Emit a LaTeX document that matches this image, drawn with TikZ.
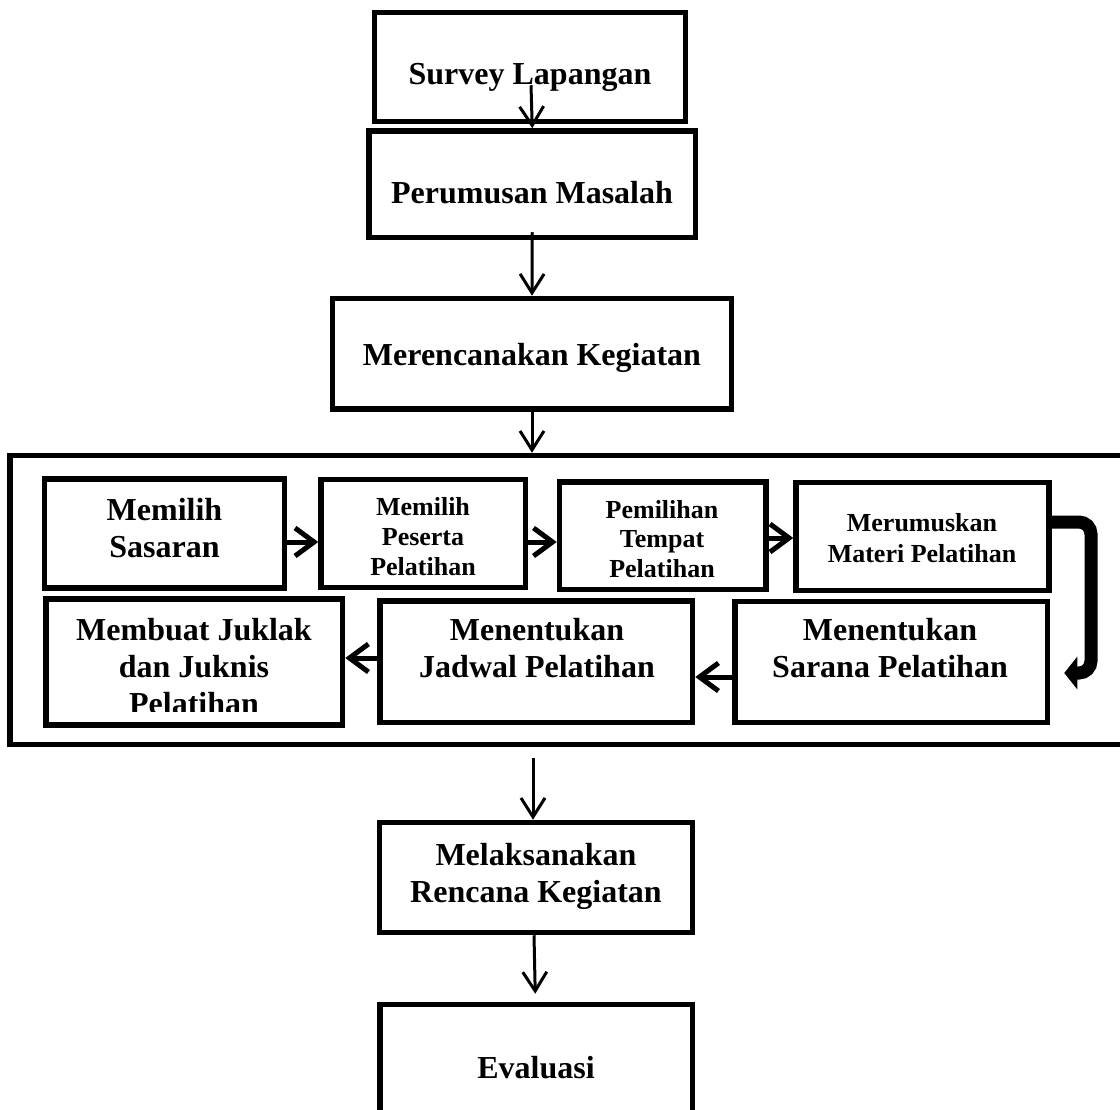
\documentclass[tikz,border=0pt]{standalone}
\usepackage{fontspec}
\setmainfont{Liberation Serif}
\usetikzlibrary{arrows.meta,calc}
\newcommand{\mlines}[1]{\begin{tabular}[t]{@{}c@{}}#1\end{tabular}}
\begin{document}
\begin{tikzpicture}[x=1pt,y=-1pt,
  box/.style={draw, line width=5.5pt, inner sep=0pt, rectangle},
  big/.style={font=\bfseries\fontsize{32}{37}\selectfont, inner sep=0pt, anchor=base},
  small/.style={font=\bfseries\fontsize{26}{30}\selectfont, inner sep=0pt, anchor=base},
  conn/.style={line width=3pt, -{Straight Barb[length=19pt,width=24pt]}},
  flow/.style={line width=5pt, -{Straight Barb[length=19pt,width=28pt]}},
  bigcurve/.style={line width=13pt, rounded corners=12pt, -{Triangle[length=13pt,width=32pt]}},
]
\useasboundingbox (0,0) rectangle (1120,1110);
\fill[white] (0,0) rectangle (1120,1110);
\clip (0,0) rectangle (1120,1110);

% main boxes
\node[box, minimum width=311pt, minimum height=109pt] (survey) at (530,67) {};
\node[box, minimum width=326.5pt, minimum height=106.5pt] (perumusan) at (532.25,184.25) {};
\node[box, minimum width=399pt, minimum height=110.5pt] (merencanakan) at (532,353.75) {};
\node[box, minimum width=1120pt, minimum height=289pt] (container) at (570,600) {};
\node[box, minimum width=240pt, minimum height=109pt] (sasaran) at (164.5,533.5) {};
\node[box, minimum width=204.5pt, minimum height=108pt] (peserta) at (423.25,533.5) {};
\node[box, minimum width=206.5pt, minimum height=107.5pt] (tempat) at (662.75,535.75) {};
\node[box, minimum width=253pt, minimum height=108pt] (merumuskan) at (922.5,536.5) {};
\node[box, minimum width=296.5pt, minimum height=126pt] (juklak) at (194.25,662) {};
\node[box, minimum width=312.5pt, minimum height=121.5pt] (jadwal) at (536.25,661.75) {};
\node[box, minimum width=312.5pt, minimum height=121pt] (sarana) at (891.25,662) {};
\node[box, minimum width=313pt, minimum height=110pt] (melaksanakan) at (536,877.5) {};
\node[box, minimum width=312.5pt, minimum height=120.5pt] (evaluasi) at (536.25,1064.75) {};

% texts
\node[big] (surveyT) at (530,85) {Survey Lapangan};
\node[big] (perumusanT) at (532,204) {Perumusan Masalah};
\node[big] (merencanakanT) at (532,365) {Merencanakan Kegiatan};
\node[big] (sasaranT) at (164.5,520) {\mlines{Memilih\\Sasaran}};
\node[small] (pesertaT) at (423,515) {\mlines{Memilih\\Peserta\\Pelatihan}};
\node[small, font=\bfseries\fontsize{26}{29.5}\selectfont] (tempatT) at (662,518) {\mlines{Pemilihan\\Tempat\\Pelatihan}};
\node[small, font=\bfseries\fontsize{26}{31}\selectfont] (merumuskanT) at (922,531) {\mlines{Merumuskan\\Materi Pelatihan}};
\begin{scope}
  \clip (40,590) rectangle (350,711);
  \node[big] (juklakT) at (194,640) {\mlines{Membuat Juklak\\dan Juknis\\Pelatihan}};
\end{scope}
\node[big] (jadwalT) at (537,640) {\mlines{Menentukan\\Jadwal Pelatihan}};
\node[big] (saranaT) at (890,640) {\mlines{Menentukan\\Sarana Pelatihan}};
\node[big] (melaksanakanT) at (536,865) {\mlines{Melaksanakan\\Rencana Kegiatan}};
\node[big] (evaluasiT) at (536,1078) {Evaluasi};

% vertical connectors
\draw[conn] ($(survey.south)+(1,-39)$) -- (perumusan.north);
\draw[conn] ($(perumusan.south)+(0,-8)$) -- (merencanakan.north);
\draw[conn] ($(merencanakan.south)+(0,-2)$) -- (merencanakan.south |- container.north);
\draw[conn] ($(container.south -| melaksanakan.north)+(-3,11)$) -- ($(melaksanakan.north)+(-3,0)$);
\draw[conn] ($(melaksanakan.south)+(-2,0)$) -- ($(evaluasi.north)+(-1,-8)$);

% inner connectors
\coordinate (sp) at ($(sasaran.east)+(0,8.5)$);
\coordinate (pt) at ($(peserta.east)+(0,8.5)$);
\coordinate (tm) at ($(tempat.east)+(0,2.25)$);
\coordinate (sj) at ($(sarana.west)+(0,15)$);
\coordinate (jj) at ($(jadwal.west)+(0,-3.75)$);
\draw[flow] (sp) -- (sp -| peserta.west);
\draw[flow] (pt) -- (pt -| tempat.west);
\draw[flow] (tm) -- (tm -| merumuskan.west);
\draw[flow] (sj) -- (sj -| jadwal.east);
\draw[flow] (jj) -- (jj -| juklak.east);

% big curved arrow
\coordinate (cs) at ($(merumuskan.east)+(0,-14.5)$);
\coordinate (ce) at ($(sarana.east)+(14,11)$);
\draw[bigcurve] (cs) -- (1091,522) -- (1091,673) -- (ce);
\end{tikzpicture}
\end{document}
